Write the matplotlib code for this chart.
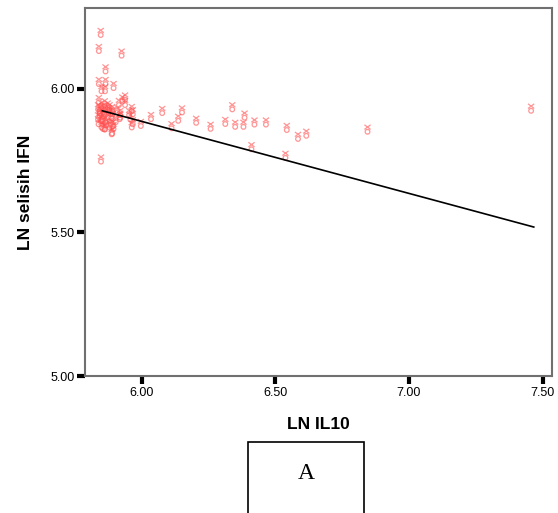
import numpy as np
import matplotlib.pyplot as plt
from matplotlib.path import Path
from matplotlib.patches import Rectangle

# --- DATA ---
il10 = [5.847, 5.840, 5.925, 5.865, 5.840, 5.865, 5.895, 5.850, 5.863, 5.840,
        5.915, 5.928, 5.938, 5.938, 5.963, 5.967, 5.953, 5.890, 5.883, 5.920,
        6.077, 6.151, 6.137, 6.035, 5.997, 5.963, 5.918, 6.204, 6.258, 6.339,
        6.385, 6.313, 6.350, 6.381, 6.422, 6.465, 6.112, 6.411, 5.848, 5.893,
        5.888, 5.855, 5.863, 6.543, 6.585, 6.616, 6.538, 6.845, 7.457,
        5.837, 5.843, 5.849, 5.854, 5.861, 5.865, 5.873, 5.877, 5.843, 5.837,
        5.847, 5.855, 5.865, 5.876, 5.888, 5.885, 5.880, 5.850, 5.861, 5.895,
        5.890, 5.839, 5.869, 5.862, 5.880, 5.892, 5.903, 5.910, 5.920, 5.958,
        5.967, 5.843, 5.858, 5.852]
ifn = [6.196, 6.140, 6.124, 6.069, 6.025, 6.025, 6.011, 6.000, 6.000, 5.962,
       5.952, 5.964, 5.971, 5.952, 5.931, 5.920, 5.917, 5.931, 5.920, 5.917,
       5.924, 5.926, 5.897, 5.903, 5.879, 5.874, 5.903, 5.890, 5.869, 5.937,
       5.908, 5.886, 5.876, 5.876, 5.884, 5.884, 5.871, 5.798, 5.755, 5.878,
       5.850, 5.869, 5.867, 5.865, 5.834, 5.845, 5.768, 5.859, 5.932,
       5.937, 5.924, 5.944, 5.934, 5.920, 5.934, 5.943, 5.927, 5.915, 5.902,
       5.895, 5.903, 5.892, 5.908, 5.906, 5.885, 5.874, 5.874, 5.867, 5.869,
       5.853, 5.885, 5.882, 5.951, 5.937, 5.920, 5.892, 5.927, 5.908, 5.901,
       5.885, 5.930, 5.912, 5.896]

# fitted line (start / end)
fit_x = [5.853, 7.467]
fit_y = [5.924, 5.519]

xticks = [6.00, 6.50, 7.00, 7.50]
yticks = [5.00, 5.50, 6.00]

# --- marker: small x above a small circle (SPSS style) ---
circ = Path.unit_circle()
circ = Path(circ.vertices * 0.45 + np.array([0.0, -0.45]), circ.codes)
cross = Path([(-0.6, 0.9), (0.6, 0.0), (0.6, 0.9), (-0.6, 0.0)],
             [Path.MOVETO, Path.LINETO, Path.MOVETO, Path.LINETO])
spss_marker = Path.make_compound_path(circ, cross)

plt.rcParams['font.family'] = ['Liberation Sans', 'DejaVu Sans']

fig = plt.figure(figsize=(5.58, 5.13), dpi=100)
ax = fig.add_axes([0.1532, 0.267, 0.8355, 0.7174])

ax.scatter(il10, ifn, marker=spss_marker, s=45, facecolors='none',
           edgecolors='#ff4f4f', linewidths=0.9, alpha=0.6, zorder=2)
ax.plot(fit_x, fit_y, color='black', linewidth=1.2, zorder=3)

ax.set_xlim(5.79, 7.534)
ax.set_ylim(5.00, 6.282)
ax.set_xticks(xticks)
ax.set_yticks(yticks)
ax.set_xticklabels([f'{v:.2f}' for v in xticks])
ax.set_yticklabels([f'{v:.2f}' for v in yticks])
ax.tick_params(direction='out', length=6, width=3, color='black',
               labelsize=9, pad=2)
for s in ax.spines.values():
    s.set_color('#707070')
    s.set_linewidth(1.5)

ax.set_xlabel('LN IL10', fontsize=12.5, fontweight='bold', labelpad=13)
ax.set_ylabel('LN selisih IFN', fontsize=12.5, fontweight='bold', labelpad=12)

# boxed panel letter
fig.patches.append(Rectangle((0.4444, -0.02), 0.2079, 0.159,
                             transform=fig.transFigure, fill=False,
                             edgecolor='black', linewidth=1.2))
fig.text(0.548, 0.077, 'A', ha='center', va='center', fontsize=17,
         family='Liberation Serif')

plt.savefig('out.png', dpi=100)
